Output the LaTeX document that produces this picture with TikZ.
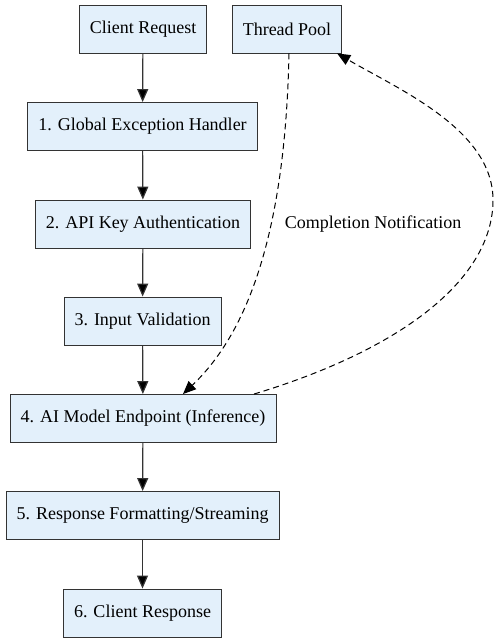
\documentclass[tikz,border=0pt]{standalone}
\usepackage{fontspec}
\setmainfont{Liberation Serif}
\usetikzlibrary{arrows.meta}
\definecolor{boxfill}{HTML}{E3F0FB}
\definecolor{boxline}{HTML}{333333}
\begin{document}
\begin{tikzpicture}[x=1pt, y=1pt,
  stage/.style={draw=boxline, fill=boxfill, line width=0.9pt, minimum height=48pt, inner xsep=10.5pt, font=\fontsize{18}{21}\selectfont},
  flow/.style={-{Triangle[length=13pt, width=11pt, fill=black]}, draw=boxline, line width=1.2pt},
  notify/.style={-{Triangle[length=13pt, width=11pt]}, black, line width=1pt, dash pattern=on 6pt off 4pt}]
  \useasboundingbox (0,0) rectangle (499,643);

  \node[stage] (req) at (143,614) {Client Request};
  \node[stage] (pool) at (287,614) {Thread Pool};
  \node[stage] (geh) at (142.5,516.5) {1. Global Exception Handler};
  \node[stage] (auth) at (143,419) {2. API Key Authentication};
  \node[stage] (valid) at (142.5,322) {3. Input Validation};
  \node[stage] (model) at (143,224.5) {4. AI Model Endpoint (Inference)};
  \node[stage] (fmt) at (142.5,127.5) {5. Response Formatting/Streaming};
  \node[stage] (resp) at (142.5,30) {6. Client Response};

  \draw[flow] (req) -- (geh);
  \draw[flow] (geh) -- (auth);
  \draw[flow] (auth) -- (valid);
  \draw[flow] (valid) -- (model);
  \draw[flow] (model) -- (fmt);
  \draw[flow] (fmt) -- (resp);

  % dashed round trip between model and pool
  \draw[notify] ([xshift=2pt]pool.south) .. controls (285,393) and (240,303) .. ([xshift=40pt]model.north);
  \draw[notify] ([xshift=111pt]model.north) .. controls (400,293) and (493,363) .. (493,443)
    .. controls (493,513) and (400,553) .. ([xshift=-5pt]pool.south east);

  \node[font=\fontsize{18}{21}\selectfont] (note) at (373,419) {Completion Notification};
\end{tikzpicture}
\end{document}
